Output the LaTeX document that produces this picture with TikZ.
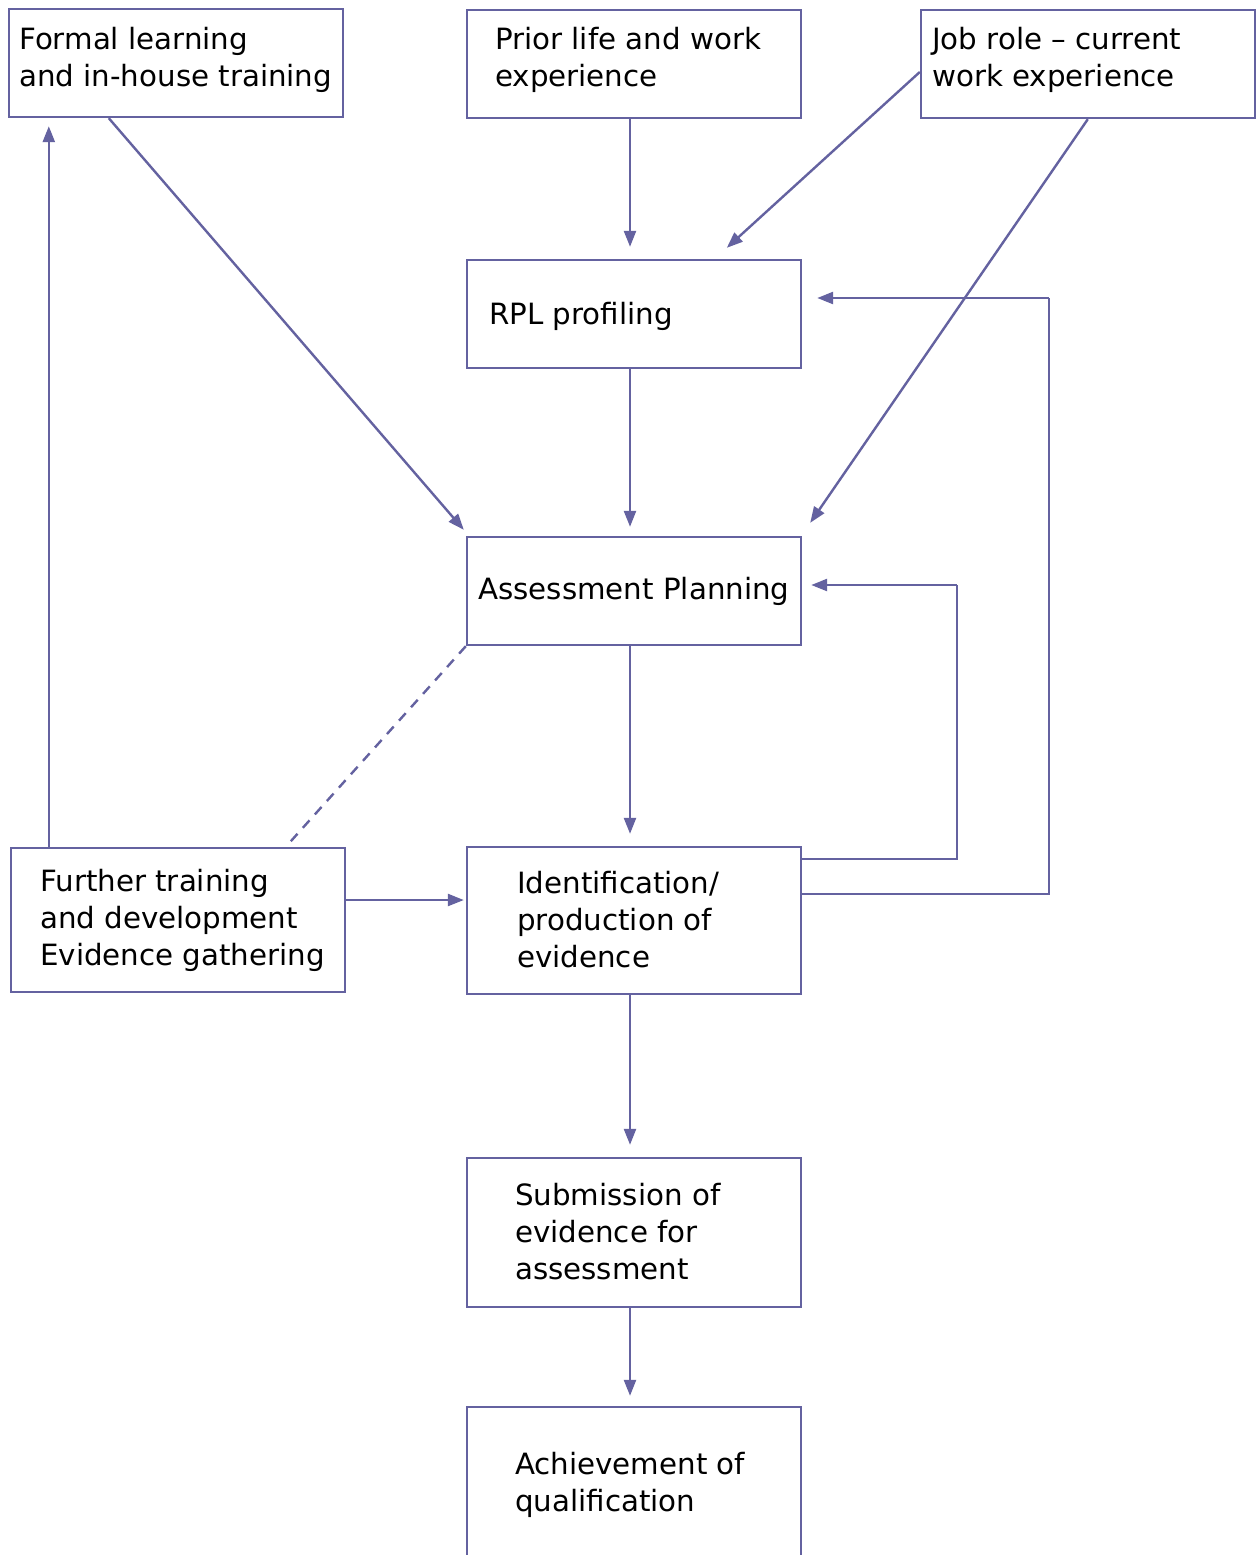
\documentclass[tikz,border=0pt]{standalone}
\usepackage{fontspec}
\setmainfont{DejaVu Sans}
\usetikzlibrary{arrows.meta,calc}
\definecolor{flow}{RGB}{100,98,160}
\tikzset{
  box/.style={draw=flow, line width=2.4pt, inner sep=0pt, minimum width=334pt},
  txt/.style={anchor=north west, inner sep=0pt, align=left,
    font=\fontsize{29.3}{37}\selectfont},
  arr/.style={draw=flow, line width=2.4pt, -{Triangle[length=16pt,width=12pt]}},
  plain/.style={draw=flow, line width=2.4pt},
  dashline/.style={draw=flow, line width=2.4pt, dash pattern=on 10pt off 8pt}
}
\begin{document}
\begin{tikzpicture}[x=1pt,y=-1pt]
\useasboundingbox (0,0) rectangle (1257,1555);
\clip (0,0) rectangle (1257,1555);
\fill[white] (0,0) rectangle (1257,1555);

% boxes
\node[box, minimum height=108pt] (formal) at (176,63) {};
\node[box, minimum height=108pt] (prior) at (634,64) {};
\node[box, minimum height=108pt] (job) at (1088,64) {};
\node[box, minimum height=108pt] (rpl) at (634,314) {};
\node[box, minimum height=108pt] (assess) at (634,591) {};
\node[box, minimum height=144pt] (further) at (178,920) {};
\node[box, minimum height=147pt] (ident) at (634,920.5) {};
\node[box, minimum height=149pt] (submit) at (634,1232.5) {};
\node[box, minimum height=220pt] (achieve) at (634,1517) {};

% labels
\node[txt] (tformal) at (19,27) {Formal learning\\and in-house training};
\node[txt] (tprior) at (495,27) {Prior life and work\\experience};
\node[txt] (tjob) at (932,27) {Job role – current\\work experience};
\node[txt] (trpl) at (489,302) {RPL profiling};
\node[txt] (tassess) at (478,577) {Assessment Planning};
\node[txt] (tfurther) at (40,869) {Further training\\and development\\Evidence gathering};
\node[txt] (tident) at (517,871) {Identification/\\production of\\evidence};
\node[txt] (tsubmit) at (515,1183) {Submission of\\evidence for\\assessment};
\node[txt] (tachieve) at (515,1452) {Achievement of\\qualification};

% main column
\coordinate (col) at (630,0);
\draw[arr] (prior.south -| col) -- ($(rpl.north -| col)+(0,-12)$);
\draw[arr] (rpl.south -| col) -- ($(assess.north -| col)+(0,-9)$);
\draw[arr] (assess.south -| col) -- ($(ident.north -| col)+(0,-12)$);
\draw[arr] (ident.south -| col) -- ($(submit.north -| col)+(0,-12)$);
\draw[arr] (submit.south -| col) -- ($(achieve.north -| col)+(0,-10)$);

% inputs from the top row
\draw[arr] ($(job.west)+(0,8)$) -- ($(rpl.north west)+(261,-11)$);
\draw[arr] ($(formal.south west)+(101,0)$) -- ($(assess.north west)+(-2,-6)$);
\draw[arr] ($(job.south west)+(168,0)$) -- ($(assess.north east)+(8,-13)$);

% feedback loops
\coordinate (loopA) at (957,0);
\coordinate (loopB) at (1049,0);
\draw[plain] ($(ident.north east)+(0,13)$) -- ($(ident.north east -| loopA)+(0,13)$)
  -- ($(assess.east -| loopA)+(0,-6)$);
\draw[arr] ($(assess.east -| loopA)+(0,-6)$) -- ($(assess.east)+(9,-6)$);
\draw[plain] ($(ident.north east)+(0,48)$) -- ($(ident.north east -| loopB)+(0,48)$)
  -- ($(rpl.east -| loopB)+(0,-16)$);
\draw[arr] ($(rpl.east -| loopB)+(0,-16)$) -- ($(rpl.east)+(15,-16)$);

% further training links
\draw[arr] ($(further.north west)+(39,0)$) -- ($(formal.south west)+(41,8)$);
\draw[dashline] (assess.south west) -- ($(further.north west)+(276,0)$);
\coordinate (side) at ($(further.east)+(0,-20)$);
\draw[arr] (side) -- ($(ident.west |- side)+(-2,0)$);
\end{tikzpicture}
\end{document}
